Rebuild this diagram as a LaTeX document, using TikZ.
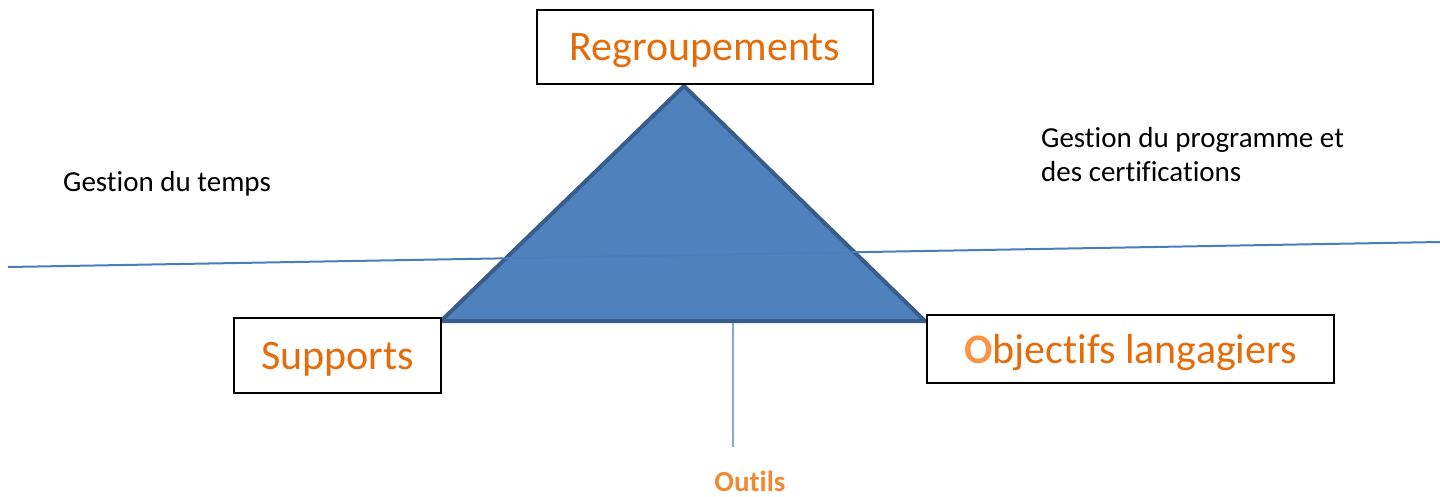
\documentclass[tikz,border=0pt]{standalone}
\usepackage{fontspec}
\setmainfont{Carlito}[Ligatures=CommonOff]
\usepackage{tikz}
\usetikzlibrary{positioning}
\definecolor{trifill}{HTML}{4F81BD}
\definecolor{triedge}{HTML}{385D8A}
\definecolor{axisblue}{HTML}{4A7EBB}
\definecolor{toolblue}{HTML}{7FAADB}
\definecolor{txtorange}{HTML}{E46C0A}
\definecolor{lightorange}{HTML}{F79646}

\begin{document}
\begin{tikzpicture}[x=1pt,y=-1pt,
  pole/.style={draw=black,line width=2pt,fill=white,inner sep=0pt,text depth=0pt,font=\fontsize{42}{50}\selectfont,text=txtorange},
  note/.style={inner sep=0pt,font=\fontsize{29}{34}\selectfont,align=left},
  axis/.style={axisblue,line width=2pt},
  tool/.style={toolblue,line width=1.5pt}
]
\useasboundingbox (0,0) rectangle (1440,496);

% Triangle
\coordinate (apex) at (684,86);
\coordinate (bl) at (441,321);
\coordinate (br) at (925,321);
\fill[trifill] (apex) -- (bl) -- (br) -- cycle;
\draw[triedge,line width=4pt,line join=miter] (apex) -- (bl) -- (br) -- cycle;

% Horizontal axis
\coordinate (axl) at (8,267);
\coordinate (axr) at (1440,242);
\draw[axis] (axl) -- (axr);

% Poles
\node[pole,minimum width=336pt,minimum height=74pt] (regr) at (705,47) {Regroupements};
\node[pole,minimum width=207pt,minimum height=75pt] (supp) at (337.5,355.5) {Supports};
\node[pole,minimum width=407pt,minimum height=68pt] (obj) at (1130.5,349) {{\bfseries\color{lightorange}O}bjectifs langagiers};

% Side notes
\node[note,anchor=west] (temps) at (63,184) {Gestion du temps};
\node[note,anchor=north west] (prog) at (1041,127) {Gestion du programme et\\des certifications};

% Tools
\coordinate (toolstop) at (733,323);
\coordinate (toolsend) at (733,447);
\draw[tool] (toolstop) -- (toolsend);
\node[inner sep=0pt,font=\fontsize{29}{34}\selectfont\bfseries,text=lightorange!70!txtorange] (outils) at (750,481) {Outils};
\end{tikzpicture}
\end{document}
